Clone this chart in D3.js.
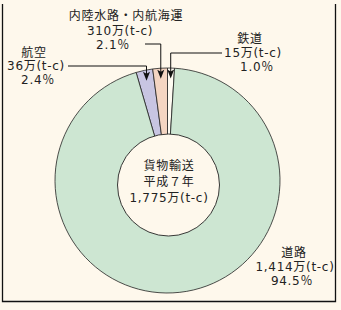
<!DOCTYPE html>
<html>
<head>
<meta charset="utf-8">
<script src="https://cdn.jsdelivr.net/npm/d3@7"></script>
<style>
  html, body { margin: 0; padding: 0; background: #fef8ec; }
  svg { display: block; }
  text { font-family: "DejaVu Sans", "Noto Sans CJK JP", sans-serif; font-size: 12px; fill: #222; letter-spacing: 0.7px; }
</style>
</head>
<body>
<svg id="chart" width="341" height="310"></svg>
<script>
// data, clockwise from the left edge of 航空
const categories = ['航空', '内陸水路・内航海運', '鉄道', '道路'];
const amounts = ['36万(t-c)', '310万(t-c)', '15万(t-c)', '1,414万(t-c)'];
const shares = [2.4, 2.1, 1.0, 94.5];
const shareLabels = ['2.4％', '2.1％', '1.0％', '94.5％'];
const colors = ['#c8c5e2', '#f4d5c2', '#fffbf2', '#cde6d2'];
const centerLines = ['貨物輸送', '平成７年', '1,775万(t-c)'];

const svg = d3.select('#chart');
const cx = 167.5, cy = 180.5, r = 112.5;

// frame (no top line in the original)
svg.append('path')
  .attr('d', 'M2.5,4 V301.5 H335.5 V4')
  .attr('fill', 'none')
  .attr('stroke', '#111')
  .attr('stroke-width', 1.3);

const data = categories.map((c, i) => ({ name: c, amount: amounts[i], value: shares[i], pct: shareLabels[i], color: colors[i] }));

// the small slices sit just left of 12 o'clock, 鉄道 starts at 0
const offset = -(shares[0] + shares[1]) / 100 * 2 * Math.PI;
const pie = d3.pie().sort(null).value(d => d.value)
  .startAngle(offset).endAngle(offset + 2 * Math.PI);
const arcs = pie(data);
const arc = d3.arc().innerRadius(0).outerRadius(r);

const g = svg.append('g').attr('transform', `translate(${cx},${cy})`);
g.selectAll('path')
  .data(arcs)
  .join('path')
  .attr('d', arc)
  .attr('fill', d => d.data.color)
  .attr('stroke', '#222')
  .attr('stroke-width', 0.8);

// hole
svg.append('circle')
  .attr('cx', 168.5).attr('cy', 185)
  .attr('r', 51)
  .attr('fill', '#fef8ec')
  .attr('stroke', '#222')
  .attr('stroke-width', 0.9);

const center = svg.append('g');
centerLines.forEach((t, i) => {
  center.append('text')
    .attr('x', 169)
    .attr('y', 170 + i * 16)
    .attr('text-anchor', 'middle')
    .text(t);
});

// label layout: [x, baseline] per line, and the leader start
const labelPos = [
  { lines: [[34, 57], [36, 70], [38, 84]], from: [68, 66] },
  { lines: [[126, 20], [120, 35], [113, 49]], from: [145, 44] },
  { lines: [[250, 43], [253, 57], [257, 71]], from: [222, 53] },
  { lines: [[294, 257], [295, 271], [292, 285]], from: null }
];

const tipR = 102;
arcs.forEach((a, i) => {
  const lp = labelPos[i];
  const texts = [a.data.name, a.data.amount, a.data.pct];
  texts.forEach((t, j) => {
    svg.append('text')
      .attr('x', lp.lines[j][0])
      .attr('y', lp.lines[j][1])
      .attr('text-anchor', 'middle')
      .text(t);
  });
  if (!lp.from) return;
  const mid = (a.startAngle + a.endAngle) / 2;
  const ax = cx + tipR * Math.sin(mid);
  const ay = cy - tipR * Math.cos(mid);
  svg.append('path')
    .attr('d', `M${lp.from[0]},${lp.from[1]} H${ax} V${ay - 6}`)
    .attr('fill', 'none')
    .attr('stroke', '#111')
    .attr('stroke-width', 1);
  svg.append('path')
    .attr('d', `M${ax - 3.5},${ay - 9} L${ax},${ay - 7} L${ax + 3.5},${ay - 9} L${ax},${ay} Z`)
    .attr('fill', '#111');
});
</script>
</body>
</html>
